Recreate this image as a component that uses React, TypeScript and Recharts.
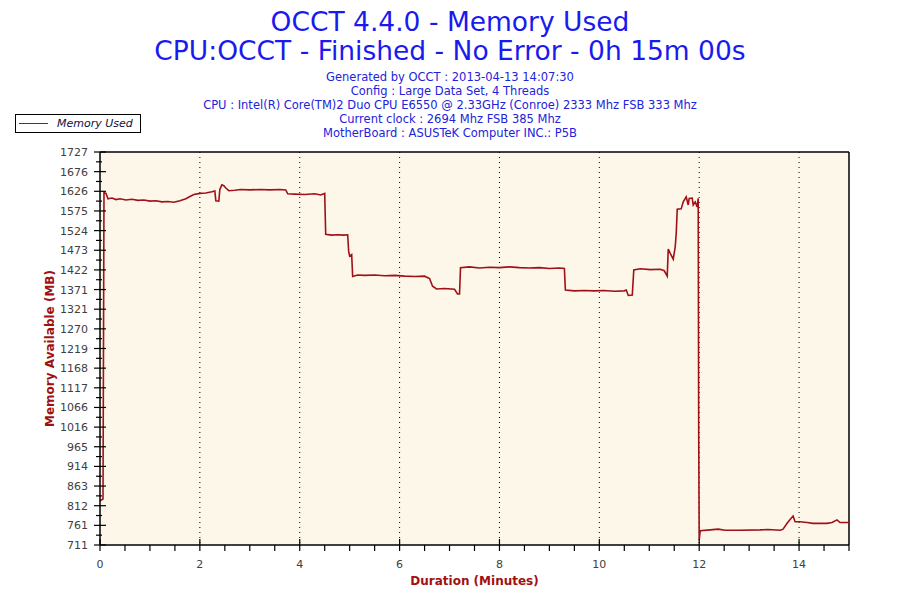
import React from 'react';
import { LineChart, Line, XAxis, YAxis, CartesianGrid, ReferenceLine } from 'recharts';

// Sample times in minutes
const times = [
  0.0, 0.06, 0.08, 0.12, 0.16, 0.24, 0.32, 0.4, 0.52, 0.64, 0.76, 0.88, 1.0, 1.12, 1.24, 1.36, 1.48, 1.6, 1.72, 1.8,
  1.88, 2.0, 2.12, 2.24, 2.3, 2.32, 2.38, 2.4, 2.44, 2.48, 2.52, 2.58, 2.7, 2.82, 3.0, 3.2, 3.4, 3.6, 3.72, 3.76,
  3.9, 4.1, 4.3, 4.42, 4.5, 4.52, 4.64, 4.76, 4.88, 4.96, 4.98, 5.0, 5.04, 5.06, 5.16, 5.3, 5.5, 5.7, 5.9, 6.1,
  6.3, 6.5, 6.6, 6.66, 6.74, 6.9, 7.1, 7.16, 7.2, 7.22, 7.4, 7.6, 7.8, 8.0, 8.2, 8.4, 8.6, 8.8, 9.0, 9.2,
  9.3, 9.32, 9.5, 9.7, 9.9, 10.1, 10.3, 10.5, 10.54, 10.58, 10.66, 10.69, 10.82, 11.02, 11.22, 11.3, 11.36, 11.38, 11.42, 11.48,
  11.52, 11.54, 11.56, 11.64, 11.68, 11.74, 11.78, 11.8, 11.86, 11.88, 11.92, 11.96, 11.98, 11.99, 12.0, 12.02, 12.22, 12.38, 12.52, 12.82,
  13.22, 13.38, 13.62, 13.68, 13.76, 13.82, 13.88, 13.92, 14.02, 14.16, 14.28, 14.56, 14.66, 14.76, 14.82, 15.0,
];

// Memory used (MB)
const memoryUsed = [
  825, 830, 1622, 1620, 1606, 1608, 1604, 1606, 1603, 1605, 1602, 1603, 1600, 1601, 1598, 1599, 1597, 1601, 1606, 1612,
  1617, 1620, 1621, 1624, 1626, 1601, 1600, 1630, 1642, 1640, 1634, 1627, 1628, 1630, 1629, 1630, 1629, 1630, 1629, 1619,
  1618, 1617, 1619, 1616, 1620, 1514, 1512, 1513, 1512, 1513, 1470, 1458, 1462, 1405, 1409, 1408, 1409, 1407, 1408, 1406,
  1405, 1406, 1400, 1380, 1373, 1374, 1372, 1360, 1360, 1428, 1430, 1427, 1429, 1428, 1430, 1428, 1427, 1428, 1426, 1427,
  1426, 1370, 1368, 1369, 1368, 1369, 1367, 1368, 1370, 1356, 1357, 1422, 1425, 1423, 1424, 1420, 1406, 1476, 1465, 1450,
  1482, 1517, 1579, 1580, 1598, 1611, 1590, 1607, 1608, 1590, 1598, 1585, 1607, 1000, 724, 748, 750, 752, 749, 749,
  750, 751, 749, 752, 767, 777, 786, 771, 771, 769, 767, 767, 769, 776, 769, 769,
];

const xTicks = [
  0, 0.5, 1, 1.5, 2, 2.5, 3, 3.5, 4, 4.5, 5, 5.5, 6, 6.5, 7, 7.5, 8, 8.5, 9, 9.5, 10, 10.5, 11, 11.5, 12, 12.5, 13, 13.5, 14, 14.5, 15,
];
const xLabelTicks = [0, 2, 4, 6, 8, 10, 12, 14];
const xGridTicks = [2, 4, 6, 8, 10, 12, 14];

const yTickLabels = [
  '711', '761', '812', '863', '914', '965', '1016', '1066', '1117', '1168', '1219',
  '1270', '1321', '1371', '1422', '1473', '1524', '1575', '1626', '1676', '1727',
];
const Y_MIN = 711;
const Y_MAX = 1727;
const Y_STEP = (Y_MAX - Y_MIN) / (yTickLabels.length - 1);
const yTicks: number[] = [];
for (let i = 0; i < yTickLabels.length; i++) {
  yTicks.push(Y_MIN + i * Y_STEP);
  if (i < yTickLabels.length - 1) yTicks.push(Y_MIN + (i + 0.5) * Y_STEP);
}

const subtitleLines = [
  'Generated by OCCT : 2013-04-13 14:07:30',
  'Config : Large Data Set, 4 Threads',
  'CPU : Intel(R) Core(TM)2 Duo CPU E6550 @ 2.33GHz (Conroe) 2333 Mhz FSB 333 Mhz',
  'Current clock : 2694 Mhz FSB 385 Mhz',
  'MotherBoard : ASUSTeK Computer INC.: P5B',
];

const data = times.map((t, i) => ({ t, mem: memoryUsed[i] }));

const LINE = '#a01018';
const TICK_TEXT = '#404040';
const AXIS_RED = '#a01010';
const FONT = 'DejaVu Sans, Verdana, sans-serif';

const YTick = (props: any) => {
  const { x, y, payload } = props;
  const idx = Math.round((payload.value - Y_MIN) / (Y_STEP / 2));
  const major = idx % 2 === 0;
  return (
    <g>
      <line x1={major ? x - 6 : x - 4} x2={major ? x + 6 : x + 2} y1={y} y2={y} stroke="#000" strokeWidth={1.2} />
      {major && (
        <text x={x - 12} y={y + 4} textAnchor="end" fontSize={11} fill={TICK_TEXT} fontFamily={FONT}>
          {yTickLabels[idx / 2]}
        </text>
      )}
    </g>
  );
};

const XTick = (props: any) => {
  const { x, y, payload } = props;
  const major = xLabelTicks.includes(payload.value);
  return (
    <g>
      <line x1={x} x2={x} y1={major ? y - 6 : y} y2={y + 6} stroke="#000" strokeWidth={1.2} />
      {major && (
        <text x={x} y={y + 23} textAnchor="middle" fontSize={11} fill={TICK_TEXT} fontFamily={FONT}>
          {payload.value}
        </text>
      )}
    </g>
  );
};

export default function App() {
  return (
    <div style={{ position: 'absolute', left: 0, top: 0, width: 900, height: 600, background: '#fff' }}>
      <div
        style={{
          position: 'absolute',
          left: 0,
          top: 7,
          width: 900,
          textAlign: 'center',
          fontFamily: FONT,
          fontSize: 26.5,
          lineHeight: '29px',
          color: '#1a1aee',
        }}
      >
        <div>OCCT 4.4.0 - Memory Used</div>
        <div>CPU:OCCT - Finished - No Error - 0h 15m 00s</div>
      </div>
      <div
        style={{
          position: 'absolute',
          left: 0,
          top: 70,
          width: 900,
          textAlign: 'center',
          fontFamily: FONT,
          fontSize: 11.5,
          lineHeight: '14px',
          color: '#2222dd',
        }}
      >
        {subtitleLines.map((s) => (
          <div key={s}>{s}</div>
        ))}
      </div>
      <div
        style={{
          position: 'absolute',
          left: 15,
          top: 114,
          width: 124,
          height: 17,
          border: '1px solid #000',
          background: '#fff',
          display: 'flex',
          alignItems: 'center',
          fontFamily: FONT,
          fontSize: 11,
          fontStyle: 'italic',
          color: '#101040',
          zIndex: 2,
        }}
      >
        <span style={{ display: 'inline-block', width: 29, height: 0, borderTop: `1px solid ${LINE}`, margin: '0 9px 0 3px' }} />
        Memory Used
      </div>
      <LineChart width={900} height={600} data={data} margin={{ top: 152, right: 51, bottom: 25, left: 40 }}>
        <CartesianGrid
          horizontal={false}
          verticalValues={xGridTicks}
          stroke="#000"
          strokeDasharray="1 4"
          fill="#fdf7e9"
          fillOpacity={1}
        />
        <XAxis
          dataKey="t"
          type="number"
          domain={[0, 15]}
          ticks={xTicks}
          interval={0}
          height={30}
          tickSize={0}
          tickMargin={0}
          stroke="#000"
          strokeWidth={1.5}
          tick={<XTick />}
          label={{
            value: 'Duration (Minutes)',
            position: 'insideBottom',
            offset: -10,
            fill: AXIS_RED,
            fontSize: 12,
            fontWeight: 'bold',
            fontFamily: FONT,
          }}
        />
        <YAxis
          type="number"
          domain={[Y_MIN, Y_MAX]}
          ticks={yTicks}
          interval={0}
          width={60}
          tickSize={0}
          tickMargin={0}
          stroke="#000"
          strokeWidth={1.5}
          tick={<YTick />}
          label={{
            value: 'Memory Available (MB)',
            angle: -90,
            position: 'insideLeft',
            offset: 10,
            fill: AXIS_RED,
            fontSize: 12,
            fontWeight: 'bold',
            fontFamily: FONT,
            style: { textAnchor: 'middle' },
          }}
        />
        <ReferenceLine y={Y_MAX} stroke="#000" strokeWidth={1.5} />
        <ReferenceLine x={15} stroke="#000" strokeWidth={1.5} />
        <Line
          type="linear"
          dataKey="mem"
          name="Memory Used"
          stroke={LINE}
          strokeWidth={1.6}
          dot={false}
          isAnimationActive={false}
        />
      </LineChart>
    </div>
  );
}
